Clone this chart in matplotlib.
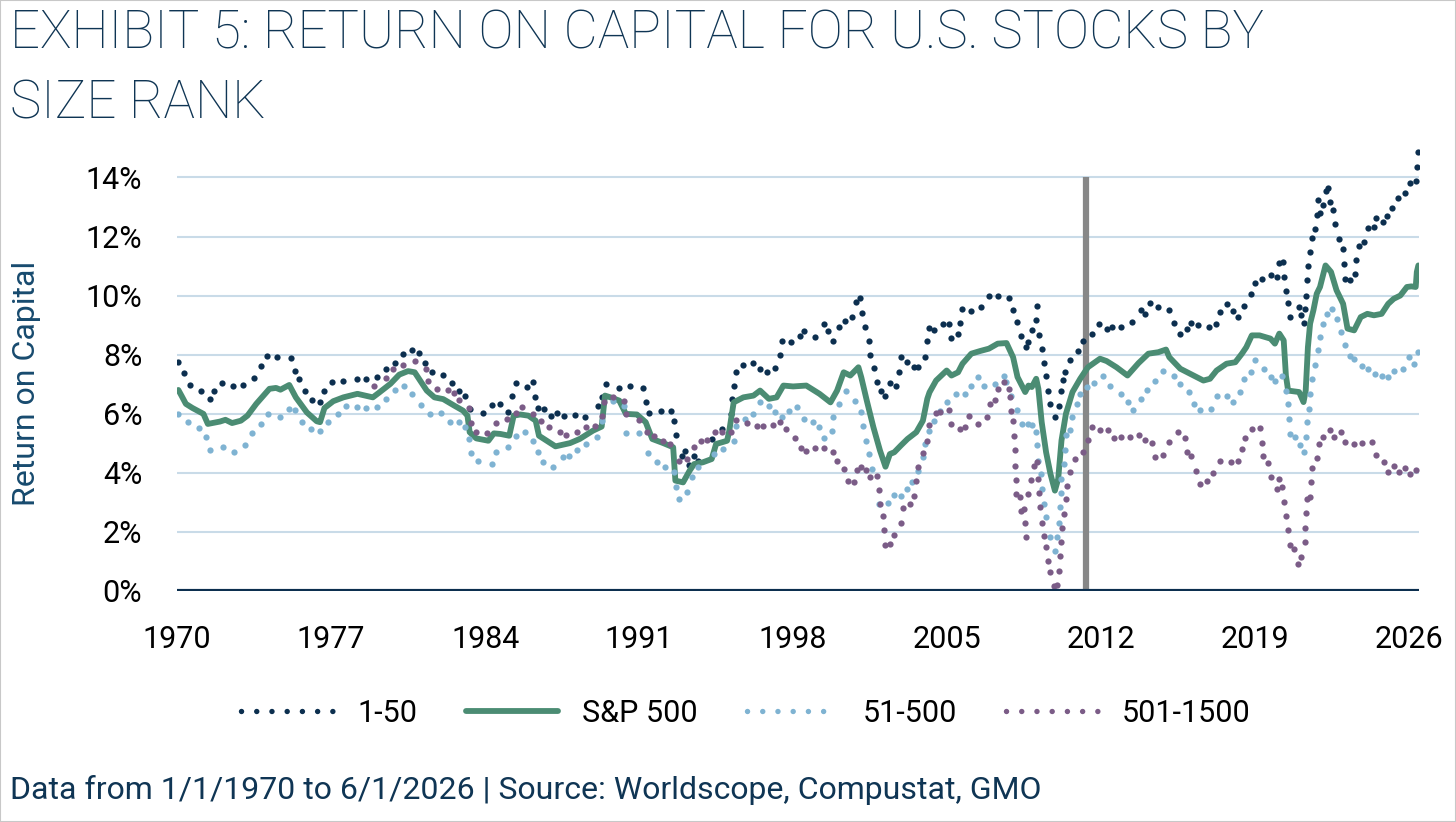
import matplotlib
matplotlib.use("Agg")
import matplotlib.pyplot as plt
from matplotlib.lines import Line2D
from matplotlib.patches import Rectangle

# --- values (decimal year, return on capital in %) ---
top50_years = [1970.06, 1970.3, 1970.6, 1971.1, 1971.5, 1971.7, 1972.06, 1972.56, 1973.0, 1973.5,
               1973.8, 1974.1, 1974.56, 1975.2, 1975.36, 1975.56, 1975.8, 1976.15, 1976.5, 1976.7,
               1977.06, 1977.56, 1978.2, 1978.6, 1979.1, 1979.5, 1979.9, 1980.26, 1980.7, 1981.0,
               1981.26, 1981.6, 1982.1, 1982.5, 1982.8, 1983.1, 1983.3, 1983.9, 1984.3, 1984.7,
               1985.06, 1985.24, 1985.4, 1985.9, 1986.2, 1986.26, 1986.4, 1986.7, 1987.0, 1987.26,
               1987.6, 1988.1, 1988.55, 1989.15, 1989.3, 1989.5, 1990.1, 1990.6, 1991.2, 1991.3,
               1991.45, 1992.0, 1992.45, 1992.6, 1992.7, 1992.94, 1993.1, 1993.25, 1993.5, 1993.7,
               1994.3, 1994.76, 1995.2, 1995.24, 1995.3, 1995.4, 1995.74, 1996.2, 1996.5, 1996.8,
               1997.2, 1997.4, 1997.5, 1997.9, 1998.3, 1998.5, 1999.0, 1999.4, 1999.6, 1999.8,
               2000.1, 2000.36, 2000.7, 2000.85, 2001.05, 2001.15, 2001.25, 2001.45, 2001.5, 2001.7,
               2001.8, 2002.0, 2002.2, 2002.4, 2002.7, 2002.8, 2002.9, 2003.2, 2003.5, 2003.7,
               2004.0, 2004.1, 2004.2, 2004.4, 2004.8, 2005.1, 2005.2, 2005.5, 2005.6, 2005.7,
               2006.1, 2006.55, 2006.9, 2007.3, 2007.8, 2008.0, 2008.2, 2008.35, 2008.6, 2008.7,
               2008.85, 2009.05, 2009.1, 2009.2, 2009.3, 2009.4, 2009.5, 2009.6, 2009.7, 2009.9,
               2010.1, 2010.2, 2010.25, 2010.35, 2010.6, 2010.97, 2011.2, 2011.6, 2011.9, 2012.25,
               2012.5, 2012.9, 2013.4, 2013.8, 2014.0, 2014.2, 2014.6, 2015.1, 2015.3, 2015.6,
               2015.9, 2016.1, 2016.4, 2016.9, 2017.2, 2017.4, 2017.7, 2018.0, 2018.2, 2018.5,
               2018.8, 2019.0, 2019.3, 2019.7, 2020.0, 2020.1, 2020.25, 2020.3, 2020.4, 2020.5,
               2020.6, 2021.0, 2021.1, 2021.22, 2021.28, 2021.32, 2021.36, 2021.4, 2021.5, 2021.6,
               2021.7, 2021.8, 2021.85, 2021.95, 2022.1, 2022.2, 2022.3, 2022.4, 2022.55, 2022.62,
               2022.8, 2023.0, 2023.05, 2023.1, 2023.3, 2023.55, 2023.6, 2023.7, 2023.95, 2024.15,
               2024.4, 2024.5, 2024.8, 2025.0, 2025.2, 2025.5, 2025.8, 2026.05, 2026.3, 2026.35,
               2026.42]
top50_roc = [7.74, 7.38, 6.98, 6.78, 6.50, 6.76, 7.05, 6.95, 6.96, 7.22,
             7.60, 7.94, 7.91, 7.90, 7.44, 7.18, 6.78, 6.47, 6.38, 6.77,
             7.08, 7.10, 7.18, 7.16, 7.24, 7.50, 7.72, 8.01, 8.17, 8.07,
             7.73, 7.42, 7.32, 7.04, 6.78, 6.59, 6.17, 6.02, 6.29, 6.33,
             6.07, 6.58, 7.02, 6.89, 7.06, 6.55, 6.18, 6.14, 5.91, 6.02,
             5.93, 5.96, 5.90, 6.27, 6.55, 7.01, 6.86, 6.95, 6.87, 6.38,
             6.02, 6.08, 6.08, 5.76, 5.28, 4.55, 4.72, 4.26, 4.58, 4.41,
             5.14, 5.48, 5.99, 6.50, 6.95, 7.40, 7.65, 7.71, 7.51, 7.40,
             7.55, 8.00, 8.47, 8.42, 8.64, 8.81, 8.59, 9.04, 8.81, 8.47,
             8.93, 9.15, 9.27, 9.77, 9.91, 9.41, 8.93, 8.45, 7.97, 7.55,
             7.08, 6.78, 6.59, 7.03, 6.95, 7.42, 7.91, 7.74, 7.57, 7.57,
             7.91, 8.47, 8.90, 8.84, 9.04, 9.05, 8.57, 8.71, 9.08, 9.55,
             9.48, 9.61, 9.97, 10.00, 9.92, 9.50, 9.10, 8.63, 8.25, 8.42,
             8.82, 9.16, 9.64, 8.67, 8.20, 7.71, 7.27, 6.78, 6.33, 5.90,
             6.25, 6.76, 7.14, 7.40, 7.83, 8.12, 8.45, 8.71, 9.05, 8.85,
             8.95, 8.95, 9.10, 9.50, 9.38, 9.75, 9.61, 9.52, 9.07, 8.68,
             8.88, 9.07, 9.01, 8.95, 9.05, 9.44, 9.72, 9.48, 9.27, 9.63,
             10.06, 10.44, 10.57, 10.69, 10.63, 11.10, 11.14, 10.63, 10.15, 9.75,
             9.27, 9.61, 9.33, 9.07, 9.55, 10.00, 10.52, 10.99, 11.48, 11.96,
             12.24, 12.72, 13.23, 12.80, 13.06, 13.55, 13.65, 13.17, 12.89, 12.41,
             11.93, 11.56, 11.06, 10.57, 10.52, 10.74, 11.22, 11.67, 11.82, 12.30,
             12.33, 12.64, 12.50, 12.69, 12.95, 13.32, 13.49, 13.80, 13.89, 14.36,
             14.85]

sp500_years = [1970.06, 1970.2, 1970.4, 1970.7, 1971.2, 1971.4, 1971.95, 1972.2, 1972.5, 1972.9,
               1973.2, 1973.6, 1974.2, 1974.5, 1974.7, 1975.1, 1975.4, 1975.9, 1976.35, 1976.5,
               1976.7, 1977.1, 1977.56, 1978.2, 1978.9, 1979.2, 1979.7, 1980.1, 1980.5, 1980.8,
               1981.05, 1981.35, 1981.7, 1982.1, 1982.6, 1983.0, 1983.2, 1983.3, 1983.6, 1984.15,
               1984.4, 1984.7, 1985.1, 1985.3, 1985.6, 1985.97, 1986.3, 1986.45, 1986.8, 1987.2,
               1987.56, 1987.86, 1988.3, 1988.9, 1989.3, 1989.45, 1989.7, 1990.1, 1990.4, 1990.9,
               1991.3, 1991.6, 1992.1, 1992.55, 1992.65, 1993.0, 1993.3, 1993.5, 1993.9, 1994.3,
               1994.5, 1995.0, 1995.1, 1995.3, 1995.74, 1996.2, 1996.5, 1996.9, 1997.25, 1997.56,
               1998.0, 1998.6, 1999.2, 1999.7, 2000.0, 2000.3, 2000.6, 2000.97, 2001.1, 2001.35,
               2001.65, 2001.95, 2002.2, 2002.4, 2002.6, 2002.9, 2003.2, 2003.6, 2003.9, 2004.1,
               2004.2, 2004.5, 2004.98, 2005.2, 2005.5, 2005.7, 2006.1, 2006.5, 2006.9, 2007.3,
               2007.7, 2008.0, 2008.2, 2008.55, 2008.7, 2008.85, 2009.05, 2009.15, 2009.3, 2009.5,
               2009.7, 2009.9, 2010.05, 2010.2, 2010.4, 2010.7, 2011.05, 2011.4, 2011.95, 2012.25,
               2012.7, 2013.2, 2013.7, 2014.15, 2014.6, 2014.95, 2015.1, 2015.6, 2016.2, 2016.65,
               2016.95, 2017.25, 2017.7, 2018.1, 2018.4, 2018.6, 2018.85, 2019.2, 2019.7, 2019.9,
               2020.1, 2020.3, 2020.4, 2020.5, 2021.0, 2021.2, 2021.3, 2021.4, 2021.5, 2021.65,
               2021.8, 2021.95, 2022.2, 2022.45, 2022.7, 2023.0, 2023.2, 2023.5, 2023.8, 2024.1,
               2024.4, 2024.75, 2025.05, 2025.3, 2025.6, 2025.9, 2026.1, 2026.3, 2026.35, 2026.42]
sp500_roc = [6.80, 6.61, 6.33, 6.19, 5.99, 5.65, 5.73, 5.79, 5.68, 5.76,
             5.93, 6.33, 6.84, 6.87, 6.81, 6.97, 6.55, 6.04, 5.74, 5.71,
             6.19, 6.42, 6.55, 6.67, 6.55, 6.72, 7.01, 7.32, 7.44, 7.40,
             7.12, 6.78, 6.55, 6.49, 6.27, 6.10, 5.93, 5.37, 5.16, 5.08,
             5.33, 5.31, 5.25, 5.93, 5.97, 5.93, 5.76, 5.25, 5.08, 4.89,
             4.95, 5.00, 5.14, 5.42, 5.56, 6.61, 6.55, 6.44, 5.99, 5.97,
             5.71, 5.14, 5.00, 4.86, 3.73, 3.67, 4.07, 4.29, 4.35, 4.46,
             4.97, 5.08, 5.42, 6.38, 6.55, 6.61, 6.78, 6.50, 6.55, 6.95,
             6.92, 6.95, 6.67, 6.38, 6.78, 7.40, 7.29, 7.57, 7.23, 6.44,
             5.54, 4.75, 4.20, 4.63, 4.69, 4.92, 5.14, 5.37, 5.76, 6.50,
             6.72, 7.12, 7.46, 7.29, 7.40, 7.69, 8.03, 8.12, 8.20, 8.37,
             8.39, 7.91, 7.24, 6.73, 6.95, 6.90, 7.18, 6.84, 5.71, 4.69,
             3.95, 3.39, 3.79, 5.09, 5.99, 6.73, 7.18, 7.57, 7.86, 7.78,
             7.57, 7.29, 7.71, 8.03, 8.08, 8.17, 7.91, 7.52, 7.29, 7.12,
             7.18, 7.46, 7.69, 7.74, 8.03, 8.25, 8.65, 8.65, 8.54, 8.37,
             8.71, 8.48, 7.29, 6.78, 6.73, 6.39, 6.78, 8.25, 9.05, 9.50,
             10.06, 10.29, 11.02, 10.80, 10.18, 9.72, 8.88, 8.82, 9.27, 9.38,
             9.33, 9.38, 9.72, 9.89, 10.00, 10.29, 10.31, 10.29, 10.80, 11.02]

mid_years = [1970.06, 1970.5, 1971.0, 1971.3, 1971.5, 1972.1, 1972.6, 1973.1, 1973.4, 1973.8,
             1974.15, 1974.7, 1975.1, 1975.36, 1975.7, 1976.1, 1976.5, 1976.85, 1977.3, 1977.7,
             1978.2, 1978.6, 1979.1, 1979.5, 1979.9, 1980.3, 1980.7, 1981.1, 1981.5, 1982.0,
             1982.4, 1982.8, 1983.1, 1983.25, 1983.35, 1983.7, 1984.3, 1984.5, 1985.06, 1985.4,
             1985.8, 1986.2, 1986.4, 1986.65, 1987.1, 1987.56, 1987.8, 1988.2, 1988.6, 1989.1,
             1989.3, 1989.8, 1990.3, 1990.4, 1991.0, 1991.4, 1991.8, 1992.2, 1992.6, 1992.7,
             1992.8, 1993.2, 1993.4, 1993.7, 1994.4, 1994.8, 1995.3, 1995.4, 1995.8, 1996.2,
             1996.5, 1996.9, 1997.2, 1997.5, 1997.8, 1998.2, 1998.5, 1998.9, 1999.2, 1999.4,
             1999.75, 1999.8, 2000.1, 2000.4, 2000.8, 2001.1, 2001.2, 2001.3, 2001.45, 2001.6,
             2001.9, 2002.3, 2002.6, 2002.9, 2003.2, 2003.4, 2003.7, 2003.9, 2004.0, 2004.2,
             2004.4, 2004.7, 2004.98, 2005.4, 2005.8, 2006.1, 2006.4, 2006.7, 2007.2, 2007.6,
             2007.7, 2007.9, 2008.2, 2008.4, 2008.7, 2008.85, 2009.05, 2009.1, 2009.15, 2009.25,
             2009.3, 2009.4, 2009.5, 2009.7, 2009.9, 2010.0, 2010.1, 2010.15, 2010.18, 2010.2,
             2010.3, 2010.35, 2010.4, 2010.6, 2010.7, 2010.9, 2011.05, 2011.35, 2011.7, 2012.1,
             2012.4, 2012.9, 2013.2, 2013.45, 2013.8, 2014.1, 2014.45, 2014.8, 2015.3, 2015.6,
             2016.0, 2016.2, 2016.5, 2017.0, 2017.25, 2017.7, 2018.0, 2018.3, 2018.5, 2018.8,
             2019.0, 2019.4, 2019.7, 2019.9, 2020.2, 2020.4, 2020.5, 2020.55, 2020.6, 2020.8,
             2021.05, 2021.2, 2021.3, 2021.35, 2021.45, 2021.5, 2021.6, 2021.7, 2021.85, 2021.95,
             2022.1, 2022.25, 2022.5, 2022.7, 2022.9, 2023.1, 2023.3, 2023.5, 2023.85, 2024.15,
             2024.45, 2024.75, 2025.05, 2025.3, 2025.7, 2026.0, 2026.2, 2026.42]
mid_roc = [5.99, 5.71, 5.51, 5.20, 4.78, 4.86, 4.71, 4.95, 5.33, 5.65,
           5.97, 5.90, 6.16, 6.12, 5.73, 5.47, 5.40, 5.73, 5.99, 6.27,
           6.24, 6.18, 6.24, 6.49, 6.80, 6.92, 6.67, 6.28, 5.97, 6.02,
           5.71, 5.71, 5.56, 5.14, 4.66, 4.38, 4.28, 4.71, 4.88, 5.25,
           5.37, 5.08, 4.71, 4.35, 4.18, 4.54, 4.58, 4.75, 4.97, 5.20,
           5.76, 6.44, 6.27, 5.33, 5.33, 4.66, 4.35, 4.18, 4.01, 3.53,
           3.11, 3.33, 3.84, 4.18, 4.63, 4.80, 5.08, 5.59, 5.82, 5.97,
           6.38, 6.27, 6.05, 5.90, 6.10, 6.21, 5.82, 5.71, 5.54, 5.18,
           5.42, 5.90, 6.33, 6.78, 6.42, 6.05, 5.59, 5.06, 4.63, 4.12,
           2.94, 2.97, 3.25, 3.20, 3.45, 3.67, 4.07, 4.52, 4.97, 5.42,
           5.76, 6.10, 6.39, 6.65, 6.65, 6.95, 7.24, 6.95, 7.01, 7.26,
           7.07, 6.61, 6.13, 5.65, 5.65, 5.60, 5.37, 4.92, 4.41, 3.96,
           3.45, 2.94, 2.48, 1.81, 1.35, 1.81, 2.31, 2.82, 3.30, 3.79,
           4.29, 4.75, 5.26, 5.43, 5.88, 6.33, 6.67, 6.90, 7.03, 7.26,
           6.92, 6.67, 6.39, 6.13, 6.50, 6.81, 7.12, 7.44, 7.29, 7.01,
           6.73, 6.33, 6.13, 6.16, 6.61, 6.58, 6.39, 6.73, 7.18, 7.40,
           7.80, 7.52, 7.24, 7.12, 7.29, 6.78, 6.33, 5.82, 5.31, 5.20,
           4.92, 4.69, 5.20, 5.71, 6.16, 6.67, 7.18, 7.63, 8.14, 8.59,
           9.05, 9.36, 9.56, 9.21, 8.76, 8.31, 7.94, 7.86, 7.60, 7.52,
           7.35, 7.26, 7.24, 7.46, 7.52, 7.92, 7.67, 8.08]

small_years = [1978.97, 1979.5, 1979.8, 1980.26, 1980.8, 1981.3, 1981.4, 1981.8, 1982.3, 1982.6,
               1982.8, 1983.25, 1983.35, 1983.6, 1984.1, 1984.5, 1985.0, 1985.4, 1985.7, 1986.2,
               1986.55, 1986.9, 1987.4, 1987.7, 1988.2, 1988.6, 1989.0, 1989.3, 1989.4, 1989.8,
               1990.3, 1990.4, 1991.0, 1991.35, 1991.7, 1992.1, 1992.4, 1992.8, 1993.2, 1993.5,
               1993.8, 1994.1, 1994.45, 1994.76, 1995.2, 1995.4, 1995.9, 1996.35, 1996.65, 1997.1,
               1997.4, 1997.7, 1998.1, 1998.35, 1998.6, 1999.0, 1999.4, 1999.8, 2000.0, 2000.3,
               2000.5, 2000.75, 2000.9, 2001.1, 2001.3, 2001.5, 2001.8, 2001.9, 2001.95, 2002.1,
               2002.15, 2002.2, 2002.4, 2002.6, 2002.9, 2003.0, 2003.3, 2003.5, 2003.6, 2003.7,
               2003.9, 2004.1, 2004.2, 2004.5, 2004.7, 2005.1, 2005.2, 2005.6, 2005.8, 2006.0,
               2006.4, 2006.8, 2006.95, 2007.2, 2007.3, 2007.6, 2007.8, 2007.85, 2007.9, 2008.0,
               2008.05, 2008.08, 2008.1, 2008.12, 2008.15, 2008.3, 2008.35, 2008.5, 2008.55, 2008.6,
               2008.7, 2008.8, 2008.95, 2009.1, 2009.15, 2009.2, 2009.22, 2009.3, 2009.4, 2009.5,
               2009.6, 2009.7, 2009.85, 2010.0, 2010.1, 2010.15, 2010.18, 2010.22, 2010.3, 2010.4,
               2010.45, 2010.6, 2010.8, 2011.2, 2011.4, 2011.6, 2011.95, 2012.3, 2012.6, 2012.9,
               2013.3, 2013.7, 2014.0, 2014.3, 2014.45, 2014.8, 2015.1, 2015.5, 2015.8, 2015.9,
               2016.1, 2016.3, 2016.5, 2016.8, 2017.1, 2017.4, 2017.9, 2018.2, 2018.4, 2018.55,
               2018.85, 2019.2, 2019.3, 2019.35, 2019.6, 2019.7, 2020.0, 2020.1, 2020.2, 2020.3,
               2020.4, 2020.5, 2020.6, 2020.75, 2020.95, 2021.1, 2021.25, 2021.28, 2021.3, 2021.35,
               2021.5, 2021.55, 2021.6, 2021.8, 2021.9, 2022.1, 2022.4, 2022.6, 2022.9, 2023.1,
               2023.5, 2023.85, 2024.3, 2024.5, 2024.85, 2025.05, 2025.3, 2025.55, 2025.8, 2026.05,
               2026.3]
small_roc = [6.95, 7.20, 7.51, 7.63, 7.77, 7.50, 7.10, 6.84, 6.80, 6.69,
             6.47, 6.19, 5.67, 5.37, 5.33, 5.67, 5.82, 6.01, 6.21, 5.99,
             5.76, 5.56, 5.39, 5.29, 5.37, 5.54, 5.59, 5.93, 6.38, 6.55,
             6.44, 5.97, 5.80, 5.37, 5.25, 5.08, 4.97, 4.41, 4.46, 4.86,
             5.06, 5.11, 5.37, 5.37, 5.37, 5.79, 5.67, 5.59, 5.59, 5.63,
             5.73, 5.48, 5.18, 4.84, 4.72, 4.84, 4.84, 4.71, 4.41, 4.12,
             3.73, 3.69, 4.10, 4.18, 4.10, 3.84, 3.88, 3.41, 2.94, 2.54,
             2.06, 1.56, 1.58, 1.89, 2.28, 2.79, 2.94, 3.22, 3.73, 4.20,
             4.66, 5.08, 5.63, 6.01, 6.07, 6.12, 5.65, 5.48, 5.54, 5.93,
             5.65, 5.88, 6.33, 6.47, 6.84, 7.07, 6.84, 6.56, 6.08, 5.74,
             5.23, 4.75, 4.24, 3.75, 3.28, 3.16, 2.69, 2.77, 2.31, 1.81,
             3.28, 3.75, 4.24, 4.35, 3.79, 3.30, 2.82, 2.31, 1.86, 1.49,
             1.01, 0.62, 0.15, 0.20, 0.68, 1.18, 1.64, 2.14, 2.60, 3.11,
             3.56, 4.01, 4.46, 4.69, 5.09, 5.56, 5.43, 5.43, 5.17, 5.22,
             5.22, 5.26, 5.11, 5.00, 4.54, 4.60, 5.03, 5.37, 5.17, 4.69,
             4.58, 4.07, 3.62, 3.71, 3.99, 4.38, 4.35, 4.41, 4.80, 5.17,
             5.48, 5.52, 5.00, 4.58, 4.32, 3.86, 3.45, 3.80, 3.50, 2.99,
             2.54, 2.05, 1.56, 1.41, 0.92, 1.15, 1.64, 2.12, 2.62, 3.11,
             3.16, 3.67, 4.15, 4.49, 4.97, 5.22, 5.45, 5.20, 5.37, 5.03,
             4.97, 5.00, 5.05, 4.61, 4.35, 4.01, 4.24, 4.01, 4.15, 3.96,
             4.09]

series_labels = ["1-50", "S&P 500", "51-500", "501-1500"]
x_tick_years = [1970, 1977, 1984, 1991, 1998, 2005, 2012, 2019, 2026]
y_tick_values = [0, 2, 4, 6, 8, 10, 12, 14]
divider_year = 2011.3

NAVY = "#0c2f4f"
TITLE_BLUE = "#0f3554"
GREEN = "#4b8c73"
LIGHT_BLUE = "#7fb3d2"
PURPLE = "#7b5c87"
GRID = "#c9dbe8"

plt.rcParams['font.family'] = ['Roboto', 'DejaVu Sans']

fig = plt.figure(figsize=(14.56, 8.22), dpi=100)
ax = fig.add_axes([0.1216, 0.2814, 0.8530, 0.5386])

# the three size buckets are shown as a dot per observation
dot_size = 4.5
ax.plot(top50_years, top50_roc, 'o', color=NAVY, ms=dot_size, mew=0, zorder=3)
ax.plot(sp500_years, sp500_roc, color=GREEN, lw=4.2,
        solid_capstyle='round', solid_joinstyle='round', zorder=4)
ax.plot(mid_years, mid_roc, 'o', color=LIGHT_BLUE, ms=dot_size, mew=0, zorder=5)
ax.plot(small_years, small_roc, 'o', color=PURPLE, ms=dot_size, mew=0, zorder=6)

# vertical divider and the heavy zero line
ax.vlines(divider_year, 0, 14, color="#878787", lw=4.5, zorder=2)
ax.axhline(0, color=NAVY, lw=3, zorder=7)

ax.set_xlim(1970, 2026.45)
ax.set_ylim(0, 15)
ax.set_xticks(x_tick_years)
ax.set_yticks(y_tick_values)
ax.set_yticklabels([f"{v}%" for v in y_tick_values])
ax.tick_params(axis='both', length=0, labelsize=22, colors='black')
ax.tick_params(axis='x', pad=25)
ax.tick_params(axis='y', pad=25)
ax.grid(axis='y', color=GRID, lw=1.5, zorder=0)
ax.set_axisbelow(True)
for side in ax.spines.values():
    side.set_visible(False)

ax.set_ylabel("Return on Capital", fontsize=23, color="#174a6e")
ax.yaxis.set_label_coords(-0.1095, 0.469)

fig.text(10 / 1456, 1 - 8 / 822, "EXHIBIT 5: RETURN ON CAPITAL FOR U.S. STOCKS BY\nSIZE RANK",
         fontsize=38, fontweight='light', color=TITLE_BLUE, va='top', ha='left', linespacing=1.45)

# legend keys: round-dot lines for the buckets, solid for the index
legend_dots = (0, (0.01, 2.8))
handles = [
    Line2D([], [], color=NAVY, lw=3.9, linestyle=legend_dots, dash_capstyle='round'),
    Line2D([], [], color=GREEN, lw=4.2, solid_capstyle='round'),
    Line2D([], [], color=LIGHT_BLUE, lw=3.9, linestyle=legend_dots, dash_capstyle='round'),
    Line2D([], [], color=PURPLE, lw=3.9, linestyle=legend_dots, dash_capstyle='round'),
]
fig.legend(handles, series_labels, loc='center',
           bbox_to_anchor=(746 / 1456, 1 - 713 / 822), ncol=4, frameon=False, fontsize=22,
           handlelength=3.0, handletextpad=0.8, columnspacing=1.6)

fig.text(10 / 1456, 1 - 790 / 822,
         "Data from 1/1/1970 to 6/1/2026 | Source: Worldscope, Compustat, GMO",
         fontsize=23, color=TITLE_BLUE, va='center', ha='left')

# thin frame around the whole exhibit
fig.patches.append(Rectangle((0, 0), 1, 1, transform=fig.transFigure, fill=False,
                             edgecolor="#c8c8c8", lw=1.5))

fig.savefig("out.png", dpi=100)
